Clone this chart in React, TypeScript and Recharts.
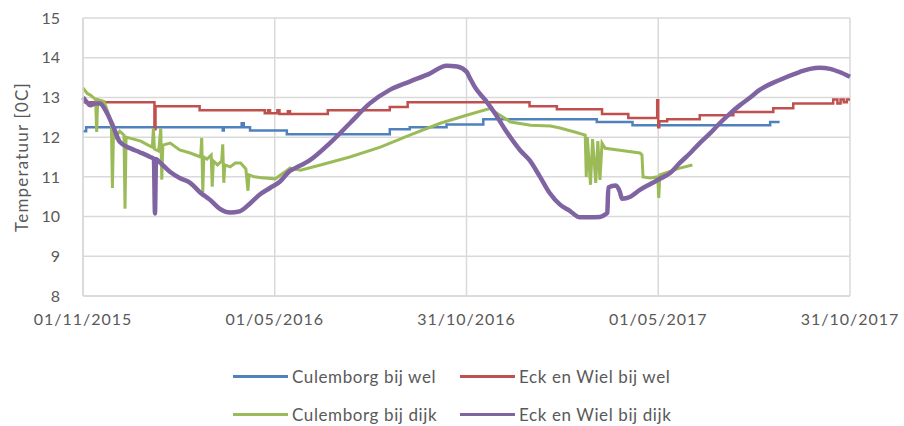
import { LineChart, Line, XAxis, YAxis, CartesianGrid } from "recharts"

// day 0 = 01/11/2015
const xTicks = [0, 182.5, 365, 547.5, 730]
const xTickLabels = ["01/11/2015", "01/05/2016", "31/10/2016", "01/05/2017", "31/10/2017"]
const yTicks = [8, 9, 10, 11, 12, 13, 14, 15]

const culemborgWelDays = [0, 3, 133, 134, 151, 153, 159, 194, 292, 311, 346, 381, 489, 523, 654, 663]
const culemborgWelTemps = [12.15, 12.25, 12.17, 12.25, 12.35, 12.25, 12.17, 12.07, 12.2, 12.25, 12.32, 12.45, 12.38, 12.3, 12.38, 12.38]

const eckWelDays = [0, 67, 68, 69, 111, 173, 176, 178, 185, 187, 195, 197, 233, 292, 309, 425, 451, 494, 519, 546.5, 547.5, 548.5, 556, 587, 619, 657, 676, 714, 718, 721, 724, 727, 730]
const eckWelTemps = [12.88, 12.88, 12.2, 12.78, 12.68, 12.6, 12.68, 12.6, 12.68, 12.58, 12.65, 12.58, 12.68, 12.76, 12.88, 12.78, 12.7, 12.58, 12.48, 12.93, 12.25, 12.4, 12.45, 12.55, 12.63, 12.73, 12.85, 12.95, 12.85, 12.95, 12.88, 12.95, 12.95]

const culemborgDijkDays = [0, 4, 7, 12, 13, 14, 20, 23, 26, 27, 28, 29, 31, 35, 39, 40, 41, 48, 55, 62, 66, 67, 68, 72, 74, 75, 76, 83, 92, 102, 112, 113, 114, 115, 118, 122, 123, 124, 128, 132, 133, 134, 135, 140, 145, 150, 155, 157, 158, 163, 170, 183, 192, 197, 207, 226, 254, 283, 311, 340, 365, 387, 397, 407, 426, 445, 454, 468, 478, 479, 480, 483, 485, 488, 490, 492, 494, 497, 511, 530, 532, 533, 540, 547, 548, 549, 568, 580]
const culemborgDijkTemps = [13.24, 13.1, 13.06, 12.95, 12.13, 12.95, 12.9, 12.68, 12.45, 12.3, 10.72, 12.1, 12.0, 12.15, 12.05, 10.2, 12.0, 11.95, 11.9, 11.8, 11.75, 12.22, 11.7, 11.65, 12.22, 10.93, 11.8, 11.85, 11.68, 11.6, 11.5, 11.98, 10.62, 11.5, 11.45, 11.55, 10.75, 11.4, 11.3, 11.4, 11.82, 10.85, 11.3, 11.25, 11.35, 11.35, 11.2, 10.65, 11.05, 11.0, 10.98, 10.95, 11.12, 11.22, 11.17, 11.3, 11.5, 11.75, 12.05, 12.35, 12.55, 12.72, 12.55, 12.38, 12.3, 12.28, 12.23, 12.13, 12.05, 11.0, 12.0, 10.8, 11.95, 10.85, 11.9, 10.92, 11.85, 11.72, 11.67, 11.6, 11.55, 11.0, 10.97, 11.0, 10.47, 11.05, 11.22, 11.3]

const eckDijkDays = [0, 3, 7, 12, 16, 23, 29, 35, 45, 54, 64, 67.5, 68.5, 69.5, 73, 83, 92, 102, 111, 121, 130, 140, 149, 159, 168, 178, 187, 197, 202, 216, 235, 254, 273, 292, 311, 330, 346, 356, 365, 368, 373, 383, 392, 402, 416, 425, 435, 444, 454, 463, 473, 482, 492, 497, 499, 500, 507, 511, 513, 521, 530, 540, 549, 559, 568, 578, 587, 597, 606, 616, 625, 635, 644, 663, 682, 692, 701, 711, 720, 730]
const eckDijkTemps = [13.0, 12.9, 12.8, 12.85, 12.85, 12.6, 12.25, 11.88, 11.72, 11.62, 11.5, 11.45, 10.08, 11.45, 11.37, 11.12, 10.97, 10.85, 10.62, 10.42, 10.2, 10.1, 10.13, 10.33, 10.55, 10.72, 10.87, 11.15, 11.22, 11.42, 11.85, 12.35, 12.85, 13.19, 13.4, 13.6, 13.8, 13.78, 13.65, 13.5, 13.26, 12.93, 12.6, 12.18, 11.67, 11.42, 11.0, 10.6, 10.3, 10.15, 9.98, 9.98, 9.99, 10.05, 10.1, 10.73, 10.78, 10.62, 10.45, 10.5, 10.67, 10.82, 10.95, 11.1, 11.35, 11.6, 11.85, 12.1, 12.35, 12.6, 12.8, 13.0, 13.19, 13.44, 13.64, 13.72, 13.75, 13.72, 13.64, 13.52]

const zip = (days: number[], temps: number[]) => days.map((d, i) => ({ day: d, temp: temps[i] }))

const series = [
  { name: "Culemborg bij wel", color: "#4F81BD", width: 2.5, type: "stepAfter", data: zip(culemborgWelDays, culemborgWelTemps) },
  { name: "Eck en Wiel bij wel", color: "#C0504D", width: 2.5, type: "stepAfter", data: zip(eckWelDays, eckWelTemps) },
  { name: "Culemborg bij dijk", color: "#9BBB59", width: 3, type: "linear", data: zip(culemborgDijkDays, culemborgDijkTemps) },
  { name: "Eck en Wiel bij dijk", color: "#8064A2", width: 4.5, type: "monotone", data: zip(eckDijkDays, eckDijkTemps) },
]

const font = "Lato, 'Open Sans', sans-serif"
const textColor = "#595959"
const gridColor = "#d9d9d9"

export default function App() {
  return (
    <div style={{ position: "absolute", left: 0, top: 0, width: 904, height: 426, background: "#fff", fontFamily: font }}>
      <LineChart width={904} height={426} margin={{ top: 18, right: 54, left: 0, bottom: 100 }}>
        <CartesianGrid stroke={gridColor} strokeWidth={1.5} />
        <XAxis
          type="number"
          dataKey="day"
          domain={[0, 730]}
          ticks={xTicks}
          tickFormatter={(v: number) => xTickLabels[xTicks.indexOf(v)] ?? ""}
          tick={{ fill: textColor, fontSize: 16, fontFamily: font, letterSpacing: 1 }}
          tickLine={false}
          tickSize={0}
          tickMargin={18}
          height={30}
          axisLine={{ stroke: gridColor, strokeWidth: 1.5 }}
          allowDuplicatedCategory={false}
        />
        <YAxis
          type="number"
          domain={[8, 15]}
          ticks={yTicks}
          width={83}
          tick={{ fill: textColor, fontSize: 16, fontFamily: font }}
          tickLine={false}
          tickSize={0}
          tickMargin={23}
          axisLine={{ stroke: gridColor, strokeWidth: 1.5 }}
          label={{
            value: "Temperatuur [0C]",
            angle: -90,
            position: "center",
            dx: -20,
            fill: textColor,
            fontSize: 17,
            fontFamily: font,
            letterSpacing: 1.2,
          }}
        />
        {series.map((s) => (
          <Line
            key={s.name}
            data={s.data}
            dataKey="temp"
            name={s.name}
            type={s.type as "linear" | "stepAfter" | "monotone"}
            stroke={s.color}
            strokeWidth={s.width}
            dot={false}
            activeDot={false}
            isAnimationActive={false}
          />
        ))}
      </LineChart>
      {series.map((s, i) => (
        <div
          key={s.name}
          style={{
            position: "absolute",
            left: i % 2 === 0 ? 233 : 460,
            top: i < 2 ? 364 : 402,
            height: 24,
            display: "flex",
            alignItems: "center",
            color: textColor,
            fontSize: 17,
            letterSpacing: 0.6,
            whiteSpace: "nowrap",
          }}
        >
          <span style={{ display: "inline-block", width: 55, height: 3, background: s.color, marginRight: 4 }} />
          {s.name}
        </div>
      ))}
    </div>
  )
}
